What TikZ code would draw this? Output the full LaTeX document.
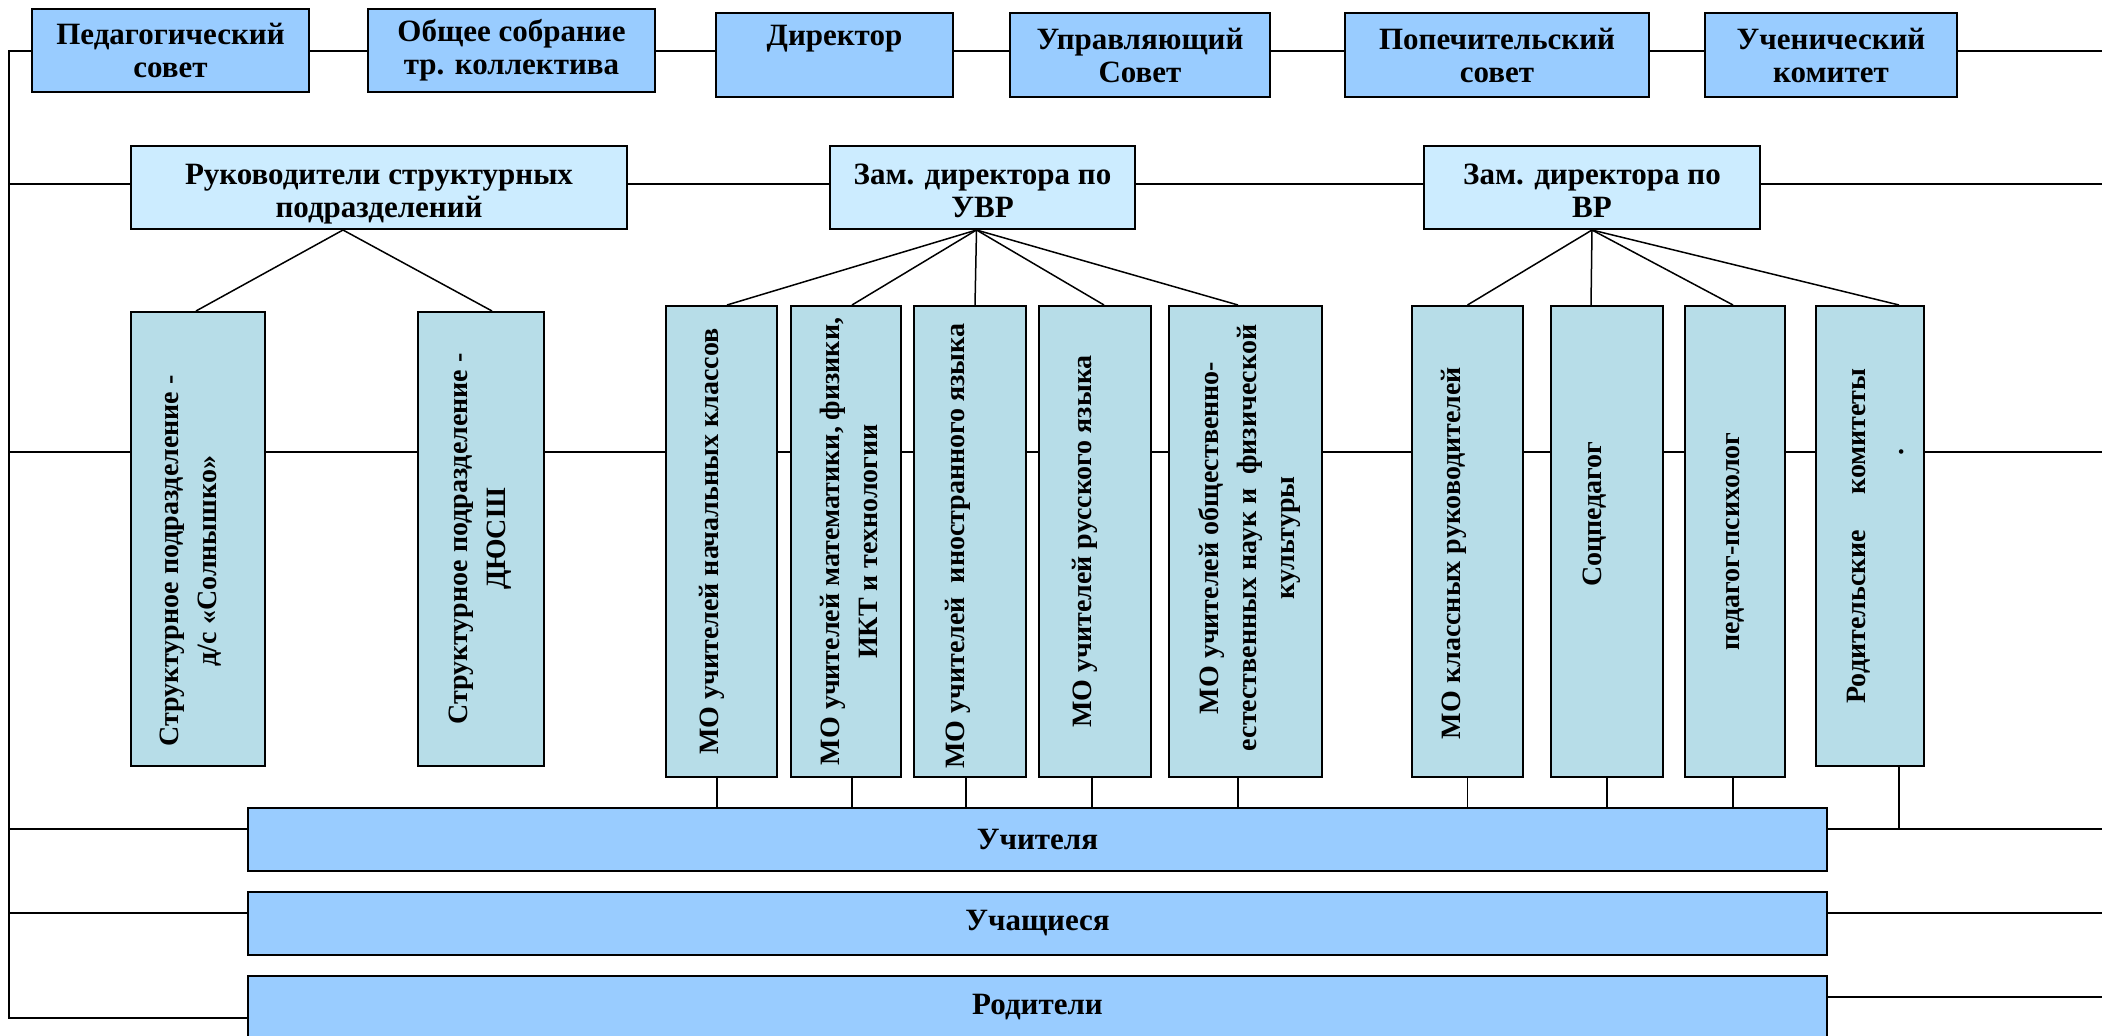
\documentclass[tikz,border=0pt]{standalone}
\usepackage{fontspec}
\setmainfont{Liberation Serif}
\usepackage{graphicx}
\usepackage{xcolor}
\usepackage{tikz}
\usetikzlibrary{positioning, calc}

\definecolor{topblue}{HTML}{99CCFF}
\definecolor{midblue}{HTML}{CCECFF}
\definecolor{colblue}{HTML}{B7DDE8}

% rotated text, shifted along the line (#1) and across it (#2)
\newcommand{\vtxtat}[3]{\rotatebox{90}{\makebox[0pt]{\hspace*{#1}\raisebox{#2}[0pt][0pt]{\begin{tabular}{@{}c@{}}#3\end{tabular}}\hspace*{-#1}}}}
% lines set a little lower in the box
\newcommand{\lowtxt}[2]{\raisebox{-#1}[\height][\depth]{\begin{tabular}{@{}c@{}}#2\end{tabular}}}

\begin{document}
\begin{tikzpicture}[
    x=1pt, y=-1pt,
    box/.style={rectangle, draw=black, line width=2pt, inner sep=0pt, align=center, font=\fontsize{31}{33}\selectfont\bfseries},
    topbox/.style={box, fill=topblue, minimum height=84pt},
    midbox/.style={box, fill=midblue, minimum height=83pt},
    colbox/.style={rectangle, draw=black, line width=2pt, inner sep=0pt, fill=colblue, minimum height=471pt, font=\fontsize{28}{38}\selectfont\bfseries},
    basebox/.style={box, fill=topblue, minimum height=63pt, minimum width=1579pt},
    link/.style={line width=2pt},
    fan/.style={line width=1.5pt},
    drop/.style={line width=1.2pt}
]

\path[fill=white] (0,0) rectangle (2102,1036);
\useasboundingbox (0,0) rectangle (2102,1036);

% upper row
\node[topbox, minimum width=277pt, minimum height=83pt] (ped) at (170.5,50.5) {Педагогический\\совет};
\node[topbox, minimum width=287pt, minimum height=83pt] (obsh) at (511.5,50.5) {Общее собрание\\тр. коллектива};
\node[topbox, minimum width=237pt] (dir) at (834.5,55) {Директор\\\phantom{Д}};
\node[topbox, minimum width=260pt] (upr) at (1140,55) {Управляющий\\Совет};
\node[topbox, minimum width=304pt] (pop) at (1497,55) {Попечительский\\совет};
\node[topbox, minimum width=252pt] (uch) at (1831,55) {Ученический\\комитет};

\node[midbox, minimum width=496pt] (rs) at (379,187.5) {\lowtxt{7pt}{Руководители структурных\\подразделений}};
\node[midbox, minimum width=305pt] (uvr) at (982.5,187.5) {\lowtxt{7pt}{Зам. директора по\\УВР}};
\node[midbox, minimum width=336pt] (vr) at (1592,187.5) {\lowtxt{7pt}{Зам. директора по\\ВР}};

% columns
\node[colbox, minimum width=134pt, minimum height=454pt] (s1) at (198,539) {\vtxtat{-22pt}{2pt}{Структурное подразделение -\\д/с «Солнышко»}};
\node[colbox, minimum width=126pt, minimum height=454pt] (s2) at (481,539) {\vtxtat{0pt}{-4pt}{Структурное подразделение -\\ДЮСШ}};
\node[colbox, minimum width=111pt] (nach) at (721.5,541.5) {\vtxtat{0pt}{4.5pt}{МО учителей начальных классов}};
\node[colbox, minimum width=110pt] (mat) at (846,541.5) {\vtxtat{0pt}{-11pt}{МО учителей математики, физики,\\ИКТ и технологии}};
\node[colbox, minimum width=112pt] (inyaz) at (970,541.5) {\vtxtat{-4.5pt}{7pt}{МО учителей\ \ иностранного языка}};
\node[colbox, minimum width=112pt] (rus) at (1095,541.5) {\vtxtat{0pt}{5pt}{МО учителей русского языка}};
\node[colbox, minimum width=153pt] (obsch) at (1245.5,541.5) {\vtxtat{3.5pt}{-10pt}{МО учителей общественно-\\естественных наук и\ \ физической\\культуры}};
\node[colbox, minimum width=111pt] (klass) at (1467.5,541.5) {\vtxtat{-11.5pt}{8.5pt}{МО классных руководителей}};
\node[colbox, minimum width=112pt] (soc) at (1607,541.5) {\vtxtat{27.5pt}{7pt}{Соцпедагог}};
\node[colbox, minimum width=100pt] (psih) at (1735,541.5) {\vtxtat{0pt}{-3pt}{педагог-психолог}};
\node[colbox, minimum width=108pt, minimum height=460pt] (rodk) at (1870,536) {\vtxtat{0pt}{-13pt}{Родительские\quad\ комитеты\\\hspace*{168pt}.}};

% lower bars
\node[basebox] (uchit) at (1037.5,839.5) {Учителя};
\node[basebox] (uchsh) at (1037.5,923.5) {Учащиеся};
\node[basebox] (rodit) at (1037.5,1007.5) {Родители};

\coordinate (l1) at (9,51);   \coordinate (r1) at (2102,51);
\coordinate (l2) at (9,184);  \coordinate (r2) at (2102,184);
\coordinate (l3) at (9,452);  \coordinate (r3) at (2102,452);
\coordinate (l4) at (9,829);  \coordinate (r4) at (2102,829);
\coordinate (l5) at (9,913);  \coordinate (r5) at (2102,913);
\coordinate (l6) at (9,1018); \coordinate (r6) at (2102,997);

\draw[link] (l6 -| rodit.west) -- (l6) -- (l1) -- (l1 -| ped.west);
\foreach \a/\b in {ped/obsh, obsh/dir, dir/upr, upr/pop, pop/uch}
    \draw[link] (l1 -| \a.east) -- (l1 -| \b.west);
\draw[link] (l1 -| uch.east) -- (r1);

\draw[link] (l2) -- (l2 -| rs.west);
\foreach \a/\b in {rs/uvr, uvr/vr}
    \draw[link] (l2 -| \a.east) -- (l2 -| \b.west);
\draw[link] (l2 -| vr.east) -- (r2);

\draw[link] (l3) -- (l3 -| s1.west);
\foreach \a/\b in {s1/s2, s2/nach, nach/mat, mat/inyaz, inyaz/rus, rus/obsch, obsch/klass, klass/soc, soc/psih, psih/rodk}
    \draw[link] (l3 -| \a.east) -- (l3 -| \b.west);
\draw[link] (l3 -| rodk.east) -- (r3);

\draw[link] (l4) -- (l4 -| uchit.west);
\draw[link] (l4 -| uchit.east) -- (r4);
\draw[link] (l5) -- (l5 -| uchsh.west);
\draw[link] (l5 -| uchsh.east) -- (r5);
\draw[link] (r6 -| rodit.east) -- (r6);

% fans
\foreach \t/\dx in {s1/-2, s2/11}
    \draw[fan] ([xshift=-36pt]rs.south) -- ([xshift=\dx pt]\t.north);
\foreach \t/\dx in {nach/5.5, mat/6, inyaz/5, rus/9, obsch/-7.5}
    \draw[fan] ([xshift=-6pt]uvr.south) -- ([xshift=\dx pt]\t.north);
\foreach \t/\dx in {klass/0, soc/-16, psih/-2, rodk/29}
    \draw[fan] (vr.south) -- ([xshift=\dx pt]\t.north);

% drops to the teachers bar
\foreach \t/\dx in {nach/-4.5, mat/6, inyaz/-4, rus/-3, obsch/-7.5, klass/0, soc/0, psih/-2}
    \draw[drop] ([xshift=\dx pt]\t.south) -- ([xshift=\dx pt]\t.south |- uchit.north);
\draw[drop] ([xshift=29pt]rodk.south) -- ([xshift=29pt]rodk.south |- l4);

\end{tikzpicture}
\end{document}
